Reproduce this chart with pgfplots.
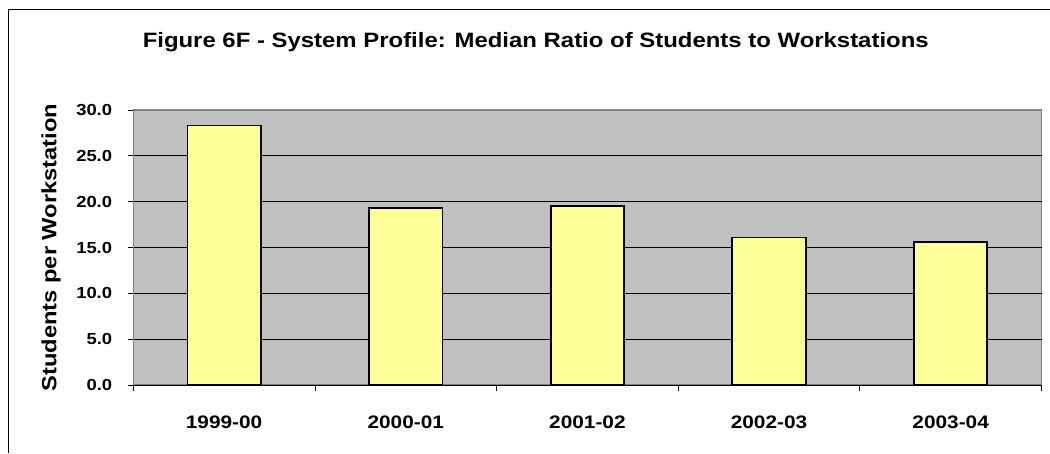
\documentclass[border=0pt]{standalone}
\usepackage{fontspec}
\setmainfont{Liberation Sans}[FakeStretch=1.15]
\usepackage{pgfplots}
\pgfplotsset{compat=1.18}
\definecolor{plotbg}{RGB}{192,192,192}
\definecolor{barfill}{RGB}{255,255,153}
\definecolor{framegray}{RGB}{128,128,128}
\begin{document}
\begin{tikzpicture}[x=1pt,y=1pt]
\useasboundingbox (0,0) rectangle (1050,453);
\draw[line width=1pt] (8.3,0) -- (8.3,443.7) -- (1050,443.7);
\node[anchor=base, inner sep=0pt, font=\bfseries\fontsize{20.8}{25}\selectfont] at (535.7,405.7) {Figure 6F - System Profile: Median Ratio of Students to Workstations};
\begin{axis}[
  at={(133.3pt,68pt)}, anchor=south west,
  width=908.2pt, height=275pt, scale only axis,
  xmin=-0.5, xmax=4.5, ymin=0, ymax=30,
  axis x line*=bottom, axis y line*=left,
  x axis line style={black, line width=1pt, -},
  y axis line style={framegray, line width=1.2pt, -},
  axis background/.style={fill=plotbg, draw=framegray, line width=1.5pt},
  tick align=outside,
  xtick={0,1,2,3,4},
  xticklabels={1999-00,2000-01,2001-02,2002-03,2003-04},
  major x tick style={draw=none},
  minor xtick={-0.5,0.5,1.5,2.5,3.5,4.5},
  minor x tick style={black, line width=0.8pt},
  minor tick length=6pt,
  ytick={0,5,10,15,20,25},
  extra y ticks={30},
  extra y tick style={grid=none},
  ymajorgrids,
  grid style={black, line width=0.8pt},
  major tick length=5pt,
  y tick style={black, line width=0.8pt},
  /pgf/number format/assume math mode=true,
  yticklabel={\pgfmathprintnumber[fixed, fixed zerofill, precision=1]{\tick}},
  yticklabel style={font=\bfseries\fontsize{16}{19}\selectfont, inner sep=0pt, anchor=east, xshift=-16pt},
  xticklabel style={font=\bfseries\fontsize{18.1}{21}\selectfont, inner sep=0pt, anchor=base, yshift=-38.3pt},
  ylabel={Students per Workstation},
  every axis y label/.style={at={(axis description cs:0,0.5)}, xshift=-82.3pt, anchor=center, rotate=90, inner sep=0pt, font=\bfseries\fontsize{20.6}{24}\selectfont},
  clip=false,
]
\addplot[ybar, bar width=73.3pt, fill=barfill, draw=black, line width=1.8pt]
  coordinates {(0,28.3) (1,19.3) (2,19.5) (3,16.1) (4,15.6)};
\end{axis}
\end{tikzpicture}
\end{document}
